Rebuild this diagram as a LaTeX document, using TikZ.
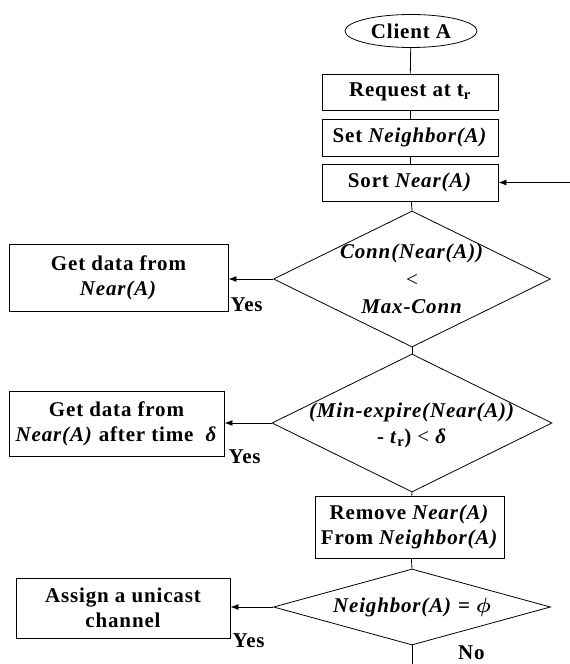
\documentclass[tikz,border=0pt]{standalone}
\usepackage{fontspec}
\setmainfont{Liberation Serif}
\usepackage{bm}
\usetikzlibrary{shapes.geometric,arrows.meta}

\begin{document}
\begin{tikzpicture}[x=1pt,y=-1pt,
  every node/.style={font=\fontsize{21}{25}\selectfont\bfseries\addfontfeature{LetterSpace=4}},
  box/.style={draw,line width=0.9pt,inner sep=0pt,align=center},
  dec/.style={draw,diamond,inner sep=0pt,line width=0.8pt},
  txt/.style={align=center,inner sep=0pt},
  link/.style={line width=0.8pt},
  arr/.style={line width=0.9pt,-{Latex[length=8pt,width=6pt]}},
  tag/.style={anchor=base west,inner sep=0pt}
]
\useasboundingbox (0,0) rectangle (570,664);

% main column
\node[draw,ellipse,minimum width=132,minimum height=33,inner sep=0pt,line width=0.8pt] (client) at (411,31) {Client A};
\node[box,minimum width=176,minimum height=36] (req) at (410,92) {Request at t\textsubscript{r}};
\node[box,minimum width=176,minimum height=37] (set) at (410,137.5) {Set \textit{Neighbor(A)}};
\node[box,minimum width=176,minimum height=37] (sort) at (410,182.5) {Sort \textit{Near(A)}};

\node[dec,minimum width=277,minimum height=136] (d1) at (412,279) {};
\node[txt,font=\fontsize{21}{27.5}\selectfont\bfseries\addfontfeature{LetterSpace=4}] (d1t) at (d1) {\textit{Conn(Near(A))}\\{\mdseries <}\\\textit{Max-Conn}};

\node[dec,minimum width=280,minimum height=138] (d2) at (412,423) {};
\node[txt,font=\fontsize{21}{26}\selectfont\bfseries\addfontfeature{LetterSpace=4}] (d2t) at (412,425) {\textit{(Min-expire(Near(A))}\\- \textit{t}\textsubscript{r}) {\mdseries <} \textit{δ}};

\node[box,minimum width=189,minimum height=62] (rem) at (409.5,527) {Remove \textit{Near(A)}\\From \textit{Neighbor(A)}};

\node[dec,minimum width=277,minimum height=76] (d3) at (412,607) {};
\node[txt] (d3t) at (d3) {\textit{Neighbor(A)} = $\bm{\phi}$};

% side boxes
\node[box,minimum width=219,minimum height=67] (b1) at (118.5,277.5) {Get data from\\\textit{Near(A)}};
\node[box,minimum width=215,minimum height=65] (b2) at (116.5,423.5) {Get data from\\\textit{Near(A)} after time \ \textit{δ}};
\node[box,minimum width=214,minimum height=60] (b3) at (123,608) {Assign a unicast\\channel};

% flow lines
\draw[link] (client) -- (req);
\draw[link] (req) -- (set);
\draw[link] (set) -- (sort);
\draw[link] (sort) -- (d1.north);
\draw[link] (d1.south) -- (d2.north);
\draw[link] (d2.south) -- (rem);
\draw[link] (rem) -- (d3.north);
\coordinate (down) at (412,664);
\draw[link] (d3.south) -- (down);

\coordinate (back) at (570,182.5);
\draw[arr] (back) -- (sort.east);

\draw[arr] (d1.west) -- (d1.west -| b1.east);
\draw[arr] (d2.west) -- (d2.west -| b2.east);
\draw[arr] (d3.west) -- (d3.west -| b3.east);

% branch labels
\node[tag] (y1) at ([xshift=2pt]b1.south east) {Yes};
\node[tag] (y2) at ([xshift=4pt,yshift=-7pt]b2.south east) {Yes};
\node[tag] (y3) at ([xshift=2pt,yshift=-9pt]b3.south east) {Yes};
\node[tag] (no) at (458,659) {No};
\end{tikzpicture}
\end{document}
